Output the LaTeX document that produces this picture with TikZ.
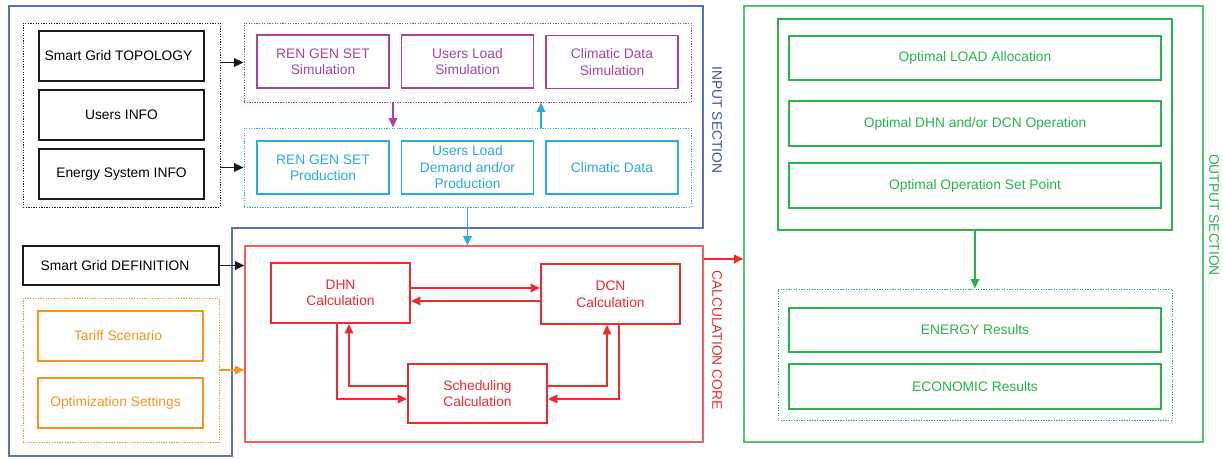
\documentclass[tikz,border=0pt]{standalone}
\usepackage{fontspec}
\setmainfont{Liberation Sans}
\usetikzlibrary{arrows.meta}
\definecolor{cpur}{HTML}{A8449C}
\definecolor{ccyan}{HTML}{29ABE2}
\definecolor{cred}{HTML}{EE2A2E}
\definecolor{cora}{HTML}{F7941D}
\definecolor{cgrn}{HTML}{27B34E}
\definecolor{cblue}{HTML}{5A72B8}
\definecolor{cbluet}{HTML}{3E4FA3}
\definecolor{cblk}{HTML}{1A1A1A}
\begin{document}
\begin{tikzpicture}[x=1pt,y=-1pt,
  txt/.style={font=\fontsize{13.8}{16.5}\selectfont},
  bx/.style={draw, line width=1.9pt, inner sep=0pt, align=center, txt},
  grp/.style={draw, line width=0.9pt, dash pattern=on 1.3pt off 1.3pt, inner sep=0pt},
  frame/.style={draw, line width=1.1pt, inner sep=0pt},
  arr/.style={-{Triangle[length=9.5pt,width=8.5pt]}, line width=1.8pt},
  vlab/.style={rotate=-90, txt}]
\useasboundingbox (0,0) rectangle (1223,458);
% input section outline
\draw[cblue, line width=1.1pt] (9,6) -- (703,6) -- (703,228) -- (232,228) -- (232,456) -- (9,456) -- cycle;
\node[vlab, text=cbluet] (lin) at (717,120) {INPUT SECTION};
% black group
\node[grp, draw=cblk, minimum width=197pt, minimum height=184pt] (blk) at (121.5,115) {};
\node[bx, draw=cblk, minimum width=165pt, minimum height=50pt] (b1) at (121.5,56) {\hspace*{-6pt}Smart Grid TOPOLOGY};
\node[bx, draw=cblk, minimum width=165pt, minimum height=50pt] (b2) at (121.5,115) {Users INFO};
\node[bx, draw=cblk, minimum width=165pt, minimum height=50pt] (b3) at (121.5,174) {Energy System INFO};
% purple group
\node[grp, draw=cpur, minimum width=447pt, minimum height=79pt] (pg) at (467.5,62.5) {};
\node[bx, draw=cpur, text=cpur, minimum width=132pt, minimum height=53pt] (p1) at (323,61.5) {REN GEN SET\\Simulation};
\node[bx, draw=cpur, text=cpur, minimum width=132pt, minimum height=53pt] (p2) at (467.5,61.5) {Users Load\\Simulation};
\node[bx, draw=cpur, text=cpur, minimum width=132pt, minimum height=53pt] (p3) at (612,62) {Climatic Data\\Simulation};
% cyan group
\node[grp, draw=ccyan, minimum width=447pt, minimum height=79pt] (cg) at (467.5,167.5) {};
\node[bx, draw=ccyan, text=ccyan, minimum width=132pt, minimum height=53pt] (c1) at (323,167.5) {REN GEN SET\\Production};
\node[bx, draw=ccyan, text=ccyan, minimum width=132pt, minimum height=53pt] (c2) at (467.5,167.5) {Users Load\\Demand and/or\\Production};
\node[bx, draw=ccyan, text=ccyan, minimum width=132pt, minimum height=53pt] (c3) at (612,167.5) {Climatic Data};
% left lower
\node[bx, draw=cblk, minimum width=196pt, minimum height=39pt] (sgd) at (121,265.5) {\hspace*{-12pt}Smart Grid DEFINITION};
\node[grp, draw=cora, minimum width=196pt, minimum height=144pt] (og) at (121,370) {};
\node[bx, draw=cora, text=cora, minimum width=165pt, minimum height=50pt] (o1) at (120.5,336) {\hspace*{-5pt}Tariff Scenario};
\node[bx, draw=cora, text=cora, minimum width=165pt, minimum height=50pt] (o2) at (120.5,403) {\hspace*{-10pt}Optimization Settings};
% calculation core
\node[frame, draw=cred!75, minimum width=458pt, minimum height=196pt] (rc) at (474,344) {};
\node[vlab, text=cred] (lcc) at (717,340) {CALCULATION CORE};
\node[bx, draw=cred, text=cred, minimum width=139pt, minimum height=60pt] (dhn) at (340.5,293) {DHN\\Calculation};
\node[bx, draw=cred, text=cred, minimum width=139pt, minimum height=60pt] (dcn) at (610.5,294) {DCN\\Calculation};
\node[bx, draw=cred, text=cred, minimum width=139pt, minimum height=59pt] (sch) at (477.5,393.5) {Scheduling\\Calculation};
% output section
\node[frame, draw=cgrn!80, minimum width=459pt, minimum height=436pt] (gout) at (973.5,224) {};
\node[vlab, text=cgrn] (lout) at (1214,215) {OUTPUT SECTION};
\node[frame, draw=cgrn, minimum width=394pt, minimum height=211pt] (gin) at (975,124.5) {};
\node[bx, draw=cgrn, text=cgrn, minimum width=372pt, minimum height=44pt] (g1) at (975,58) {Optimal LOAD Allocation};
\node[bx, draw=cgrn, text=cgrn, minimum width=372pt, minimum height=45pt] (g2) at (975,123.5) {Optimal DHN and/or DCN Operation};
\node[bx, draw=cgrn, text=cgrn, minimum width=372pt, minimum height=45pt] (g3) at (975,185.5) {Optimal Operation Set Point};
\node[grp, draw=cgrn, minimum width=394pt, minimum height=131pt] (gdot) at (975,354.5) {};
\node[bx, draw=cgrn, text=cgrn, minimum width=372pt, minimum height=44pt] (e1) at (975,330) {ENERGY Results};
\node[bx, draw=cgrn, text=cgrn, minimum width=372pt, minimum height=45pt] (e2) at (975,386.5) {ECONOMIC Results};
% helper coordinates
\coordinate (xa) at (393,0);
\coordinate (xb) at (541,0);
\coordinate (yr) at (0,259);
\coordinate (y1) at (0,288);
\coordinate (y2) at (0,301);
\coordinate (y3) at (0,386);
\coordinate (y4) at (0,399);
\coordinate (x1) at (337,0);
\coordinate (x2) at (349,0);
\coordinate (x3) at (607,0);
\coordinate (x4) at (619,0);
% connectors
\draw[arr, cblk] (blk.east |- pg.west) -- (pg.west);
\draw[arr, cblk] (blk.east |- cg.west) -- (cg.west);
\draw[arr, cpur] (pg.south -| xa) -- (cg.north -| xa);
\draw[arr, ccyan] (cg.north -| xb) -- (pg.south -| xb);
\draw[arr, ccyan] (cg.south) -- (cg.south |- rc.north);
\draw[arr, cblk] (sgd.east) -- (sgd.east -| rc.west);
\draw[arr, cora] (og.east) -- (og.east -| rc.west);
\draw[arr, cred] (rc.east |- yr) -- (gout.west |- yr);
\draw[arr, cred] (dhn.east |- y1) -- (dcn.west |- y1);
\draw[arr, cred] (dcn.west |- y2) -- (dhn.east |- y2);
\draw[arr, cred] (dhn.south -| x1) |- (sch.west |- y4);
\draw[arr, cred] (sch.west |- y3) -| (dhn.south -| x2);
\draw[arr, cred] (sch.east |- y3) -| (dcn.south -| x3);
\draw[arr, cred] (dcn.south -| x4) |- (sch.east |- y4);
\draw[arr, cgrn] (gin.south) -- (gdot.north);
\end{tikzpicture}
\end{document}
